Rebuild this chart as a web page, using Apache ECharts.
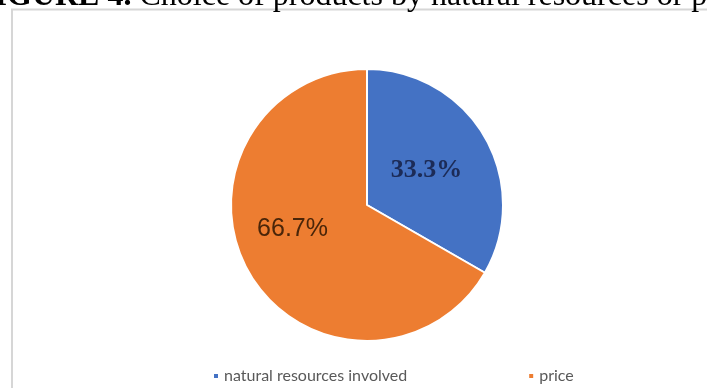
<!DOCTYPE html>
<html>
<head>
<meta charset="utf-8">
<title>Figure 4</title>
<script src="https://cdn.jsdelivr.net/npm/echarts@6.0.0/dist/echarts.min.js"></script>
<style>
    html, body { margin: 0; padding: 0; background: #fff; }
    #myChartPie { width: 707px; height: 388px; }
</style>
</head>
<body>
<div id="myChartPie"></div>
<script>
// data
var categories = ['natural resources involved', 'price'];
var values = [33.3, 66.7];
var labels = ['33.3%', '66.7%'];
var colors = ['#4472C4', '#ED7D31'];

window.onload = function () {
    operatorPiePercent();
}

function operatorPiePercent() {
    var myChartPie = echarts.init(document.getElementById('myChartPie'));

    var pieData = [];
    for (var j = 0; j < categories.length; j++) {
        pieData.push({ value: values[j], name: categories[j] });
    }
    // label styles per slice
    pieData[0].label = {
        formatter: labels[0],
        fontFamily: '"Liberation Serif", serif',
        fontWeight: 'bold',
        fontSize: 26,
        color: '#1c2b57',
        offset: [-2, 1]
    };
    pieData[1].label = {
        formatter: labels[1],
        fontFamily: '"Liberation Sans", Arial, sans-serif',
        fontSize: 25,
        color: '#4a2509',
        offset: [-13, -11]
    };

    var option = {
        animation: false,
        color: colors,
        graphic: [
            {
                type: 'rect',
                z: 0,
                shape: { x: 12, y: 9.5, width: 760, height: 460 },
                style: { fill: '#fff', stroke: '#d6d6d6', lineWidth: 2 }
            },
            {
                type: 'text',
                z: 10,
                x: -25,
                y: 13,
                style: {
                    text: '{b|FIGURE 4.} Choice of products by natural resources or price',
                    font: '32px "Liberation Serif", serif',
                    fill: '#000',
                    verticalAlign: 'bottom',
                    rich: {
                        b: { fontWeight: 'bold', fontSize: 32, fontFamily: '"Liberation Serif", serif', fill: '#000' }
                    }
                }
            }
        ],
        legend: {
            data: categories,
            left: 207,
            top: 363,
            icon: 'rect',
            itemWidth: 6,
            itemHeight: 6,
            itemGap: 120,
            textStyle: {
                color: '#595959',
                fontFamily: 'Lato, sans-serif',
                fontSize: 16
            }
        },
        series: [
            {
                name: 'choice',
                type: 'pie',
                center: [367, 205],
                radius: [0, 136],
                startAngle: 90,
                clockwise: true,
                label: {
                    show: true,
                    position: 'inside'
                },
                labelLine: { show: false },
                itemStyle: {
                    borderColor: '#fff',
                    borderWidth: 2
                },
                emphasis: { disabled: true },
                data: pieData
            }
        ]
    };
    myChartPie.setOption(option);
    window.onresize = myChartPie.resize;
}
</script>
</body>
</html>
